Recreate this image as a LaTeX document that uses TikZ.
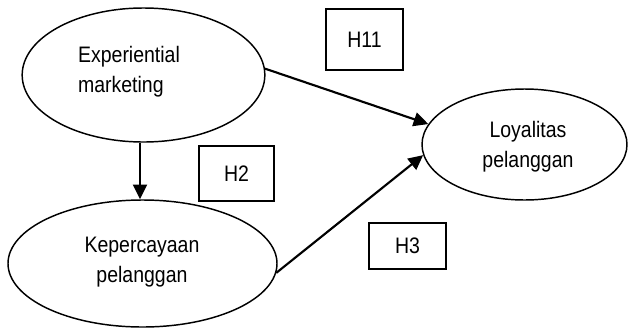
\documentclass[tikz,border=0pt]{standalone}
\usepackage{fontspec}
\setmainfont[FakeStretch=0.87]{Liberation Sans}
\usetikzlibrary{shapes, arrows.meta, positioning}

\begin{document}
\begin{tikzpicture}[x=0.75pt, y=-0.75pt,
  var/.style = {draw, ellipse, line width=1.1pt, inner sep=0pt},
  hyp/.style = {draw, rectangle, line width=0.9pt, inner sep=0pt},
  txt/.style = {align=center, inner sep=0pt, font=\fontsize{16.8}{22.5}\selectfont},
  path/.style = {-{Triangle[length=11pt,width=10.5pt]}, line width=1.6pt}]
\useasboundingbox (0,0) rectangle (628,329);

% latent variables
\node[var, minimum width=182pt, minimum height=100.5pt] (exp) at (143.5,75) {};
\node[var, minimum width=201.75pt, minimum height=95.25pt] (kep) at (142.5,263.5) {};
\node[var, minimum width=153.75pt, minimum height=83.25pt] (loy) at (524.5,144.5) {};
\node[txt, align=left] (exptext) at (129,72) {Experiential\\marketing};
\node[txt] (keptext) at (142,262) {Kepercayaan\\pelanggan};
\node[txt] (loytext) at (528,147) {Loyalitas\\pelanggan};

% hypotheses
\node[hyp, txt, minimum width=57.75pt, minimum height=45.75pt] (h11) at (364.5,39.5) {H11};
\node[hyp, txt, minimum width=56.25pt, minimum height=41.25pt] (h2) at (236.5,173.5) {H2};
\node[hyp, txt, minimum width=57.75pt, minimum height=34.5pt] (h3) at (407.5,246) {H3};

\draw[path] (exp.3) -- (loy.168);
\draw[path] (exp.south -| 140,0) -- (kep.north -| 140,0);
\draw[path] (kep.-4) -- (loy.186);
\end{tikzpicture}
\end{document}
